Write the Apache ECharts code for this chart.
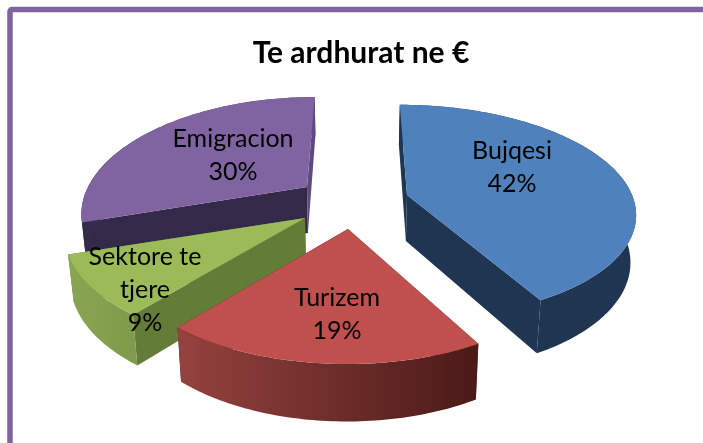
<!DOCTYPE html>
<html>
<head>
<meta charset="utf-8">
<title>Te ardhurat ne €</title>
<script src="https://cdn.jsdelivr.net/npm/echarts@6/dist/echarts.min.js"></script>
<style>
    html, body { margin: 0; padding: 0; background: #fff; }
    #chart { width: 703px; height: 443px; }
</style>
</head>
<body>
<div id="chart"></div>
<script>
    // data
    var titleText = 'Te ardhurat ne €';
    var categories = ['Bujqesi', 'Turizem', 'Sektore te\ntjere', 'Emigracion'];
    var shares = [42, 19, 9, 30];

    // 3D look: one slice each, same order as the data
    var apexX = [407, 348, 305, 307];
    var apexY = [195, 229, 218, 187];
    var radiusX = [225, 225, 238, 219];
    var tiltY = [104, 108, 114, 108];
    var persp = [0.153, 0.2, 0.12, 0.2];
    var labelX = [512, 337, 145, 233];
    var labelY = [167, 314, 290, 155];
    var drawOrder = [2, 4, 3, 1];
    var topColors = ['#4f81bd', '#c0504d', '#9bbb59', '#8064a2'];
    var startWall = ['#1f3552', '#8f3f3b', '#637c37', '#35294a'];
    var endWall = ['#1f3552', '#4a1a18', '#637c37', '#5f4a80'];
    var arcFrom = ['#1f3552', '#95423e', '#8ba652', '#35294a'];
    var arcTo = ['#1f3552', '#4a1a18', '#7e9a4a', '#5f4a80'];

    var centerX = 353;
    var depth = 46;

    var total = 0, startAngles = [];
    for (var n = 0; n < shares.length; n++) {
        startAngles.push(total / 100 * 360);
        total += shares[n];
    }

    // angle in degrees clockwise from the top, r = 0 gives the apex
    function topPoint(i, angle, r) {
        var rad = angle * Math.PI / 180;
        var lx = Math.sin(rad) * r, ly = -Math.cos(rad) * r;
        var s = 1 / (1 - persp[i] * ly);
        return {
            x: centerX + (apexX[i] - centerX + radiusX[i] * lx) * s,
            y: apexY[i] + tiltY[i] * ly * s,
            s: s
        };
    }
    function xy(p) { return [p.x, p.y]; }
    function under(p) {
        return [centerX + (p.x - centerX) * 0.98, p.y + depth * p.s];
    }

    function renderSlice(params, api) {
        var i = params.dataIndex;
        var from = startAngles[i];
        var to = from + api.value(0) / 100 * 360;
        var apex = topPoint(i, 0, 0);
        var first = topPoint(i, from, 1);
        var last = topPoint(i, to, 1);
        var z = drawOrder[i] * 10;

        var rim = [];
        for (var a = from; a < to; a += 1) {
            rim.push(topPoint(i, a, 1));
        }
        rim.push(last);

        var topFace = [xy(apex)], arcFace = [], arcBack = [];
        rim.forEach(function (p) {
            topFace.push(xy(p));
            arcFace.push(xy(p));
            arcBack.unshift(under(p));
        });

        function poly(points, fill, order) {
            return { type: 'polygon', shape: { points: points }, style: { fill: fill }, z2: z + order };
        }
        var arcFill = new echarts.graphic.LinearGradient(0, 0, 1, 0, [
            { offset: 0, color: arcFrom[i] },
            { offset: 1, color: arcTo[i] }
        ]);

        return {
            type: 'group',
            children: [
                poly([xy(apex), xy(first), under(first), under(apex)], startWall[i], 0),
                poly([xy(apex), xy(last), under(last), under(apex)], endWall[i], 1),
                poly(arcFace.concat(arcBack), arcFill, 2),
                poly(topFace, topColors[i], 3),
                {
                    type: 'text',
                    x: labelX[i],
                    y: labelY[i],
                    z2: 100,
                    style: {
                        text: categories[i] + '\n' + api.value(0) + '%',
                        fill: '#000',
                        font: '25px Lato',
                        lineHeight: 33,
                        align: 'center',
                        verticalAlign: 'middle'
                    }
                }
            ]
        };
    }

    var chart = echarts.init(document.getElementById('chart'), null, { renderer: 'canvas' });
    chart.setOption({
        animation: false,
        backgroundColor: '#fff',
        title: {
            text: titleText,
            left: 356,
            top: 33,
            textAlign: 'center',
            textStyle: { color: '#000', fontFamily: 'Lato', fontWeight: 'bold', fontSize: 30 }
        },
        graphic: [{
            type: 'rect',
            z: -1,
            shape: { x: 10, y: 9.5, width: 900, height: 700, r: 2 },
            style: { fill: 'none', stroke: '#8064a2', lineWidth: 5.5 }
        }],
        series: [{
            type: 'custom',
            coordinateSystem: 'none',
            renderItem: renderSlice,
            data: shares.map(function (v, i) {
                return { name: categories[i], value: [v] };
            })
        }]
    });
</script>
</body>
</html>
